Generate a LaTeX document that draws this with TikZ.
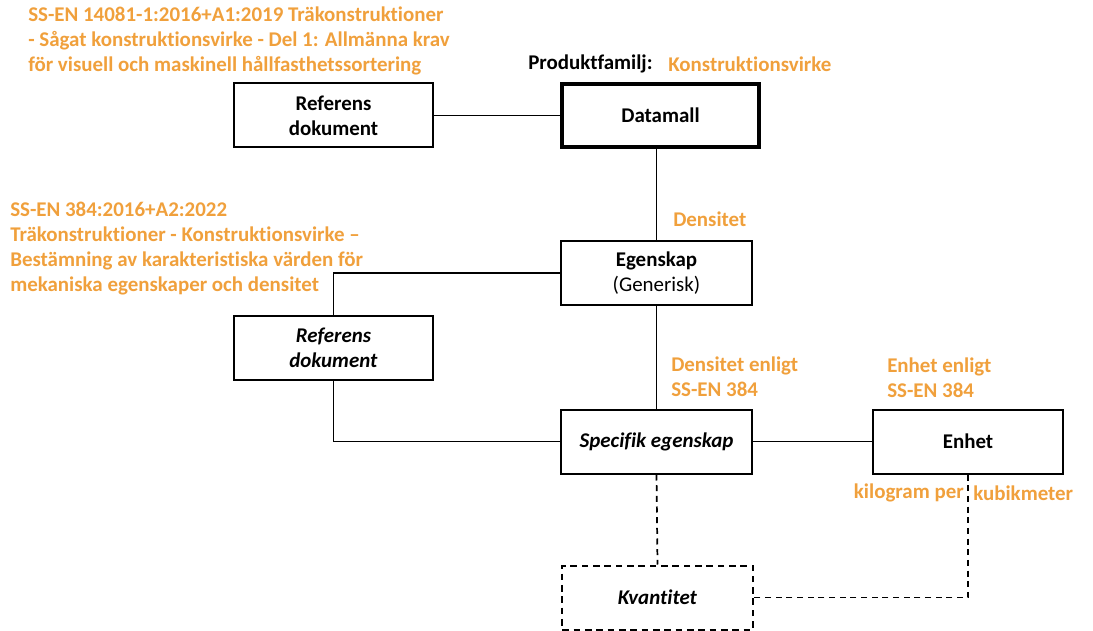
\documentclass[tikz,border=0pt]{standalone}
\usepackage{fontspec}
\setmainfont[Ligatures=NoCommon]{Carlito}
\definecolor{stdorange}{RGB}{240,160,60}
\begin{document}
\begin{tikzpicture}[x=0.75pt,y=-0.75pt,
  every node/.style={font=\fontsize{15.7pt}{18.75pt}\selectfont},
  box/.style={draw=black,line width=1.5pt,fill=white,minimum height=48pt,align=center,inner sep=2pt},
  mainbox/.style={box,line width=2.6pt},
  dashbox/.style={box,dash pattern=on 5pt off 3.5pt},
  link/.style={draw=black,line width=1.3pt},
  dlink/.style={link,dash pattern=on 4.5pt off 3.5pt},
  note/.style={text=stdorange,font=\fontsize{15.7pt}{18.75pt}\selectfont\bfseries,inner sep=0pt,align=left},
  plain/.style={inner sep=0pt,font=\fontsize{15.7pt}{18.75pt}\selectfont\bfseries}]
\useasboundingbox (0,0) rectangle (1093,631);

% boxes
\node[box,minimum width=149pt] (ref1) at (333.5,115.5) {\textbf{Referens}\\\textbf{dokument}};
\node[mainbox,minimum width=147.5pt,minimum height=47pt] (datamall) at (660.5,115.5) {\textbf{Datamall}};
\node[box,minimum width=143pt] (egenskap) at (656.5,273) {\textbf{Egenskap}\\(Generisk)};
\node[box,minimum width=149pt] (ref2) at (333.5,347.5) {\textbf{\itshape Referens}\\\textbf{\itshape dokument}};
\node[box,minimum width=143pt] (specifik) at (656.5,441.5) {\textbf{\itshape Specifik egenskap}};
\node[box,minimum width=142.5pt] (enhet) at (968,441.5) {\textbf{Enhet}};
\node[dashbox,minimum width=143pt] (kvantitet) at (657.5,597.5) {\textbf{\itshape Kvantitet}};

% connectors
\draw[link] (ref1.east) -- (datamall.west);
\draw[link] (egenskap.north) -- (egenskap.north |- datamall.south);
\draw[link] (egenskap.west) -| (ref2.north);
\draw[link] (ref2.south) |- (specifik.west);
\draw[link] (egenskap.south) -- (specifik.north);
\draw[link] (specifik.east) -- (enhet.west);
\draw[dlink] (specifik.south) -- (kvantitet.north);
\draw[dlink] (enhet.south) |- (kvantitet.east);

% labels
\node[plain,anchor=west] (pflabel) at (528,64) {Produktfamilj:};
\node[note,anchor=west] (pfname) at (668,64) {Konstruktionsvirke};
\node[note,anchor=west] (std1) at (28,41) {SS-EN 14081-1:2016+A1:2019 Träkonstruktioner\\- Sågat konstruktionsvirke - Del 1: Allmänna krav\\för visuell och maskinell hållfasthetssortering};
\node[note,anchor=west] (std2) at (10,249) {SS-EN 384:2016+A2:2022\\Träkonstruktioner - Konstruktionsvirke –\\Bestämning av karakteristiska värden för\\mekaniska egenskaper och densitet};
\node[note,anchor=west] (dens) at (673,219) {Densitet};
\node[note,anchor=west] (densstd) at (671,377) {Densitet enligt\\SS-EN 384};
\node[note,anchor=west] (unitstd) at (887,378) {Enhet enligt\\SS-EN 384};
\node[note,anchor=east] (kg) at (964,493) {kilogram per};
\node[note,anchor=west] (m3) at (973,493) {kubikmeter};
\end{tikzpicture}
\end{document}
